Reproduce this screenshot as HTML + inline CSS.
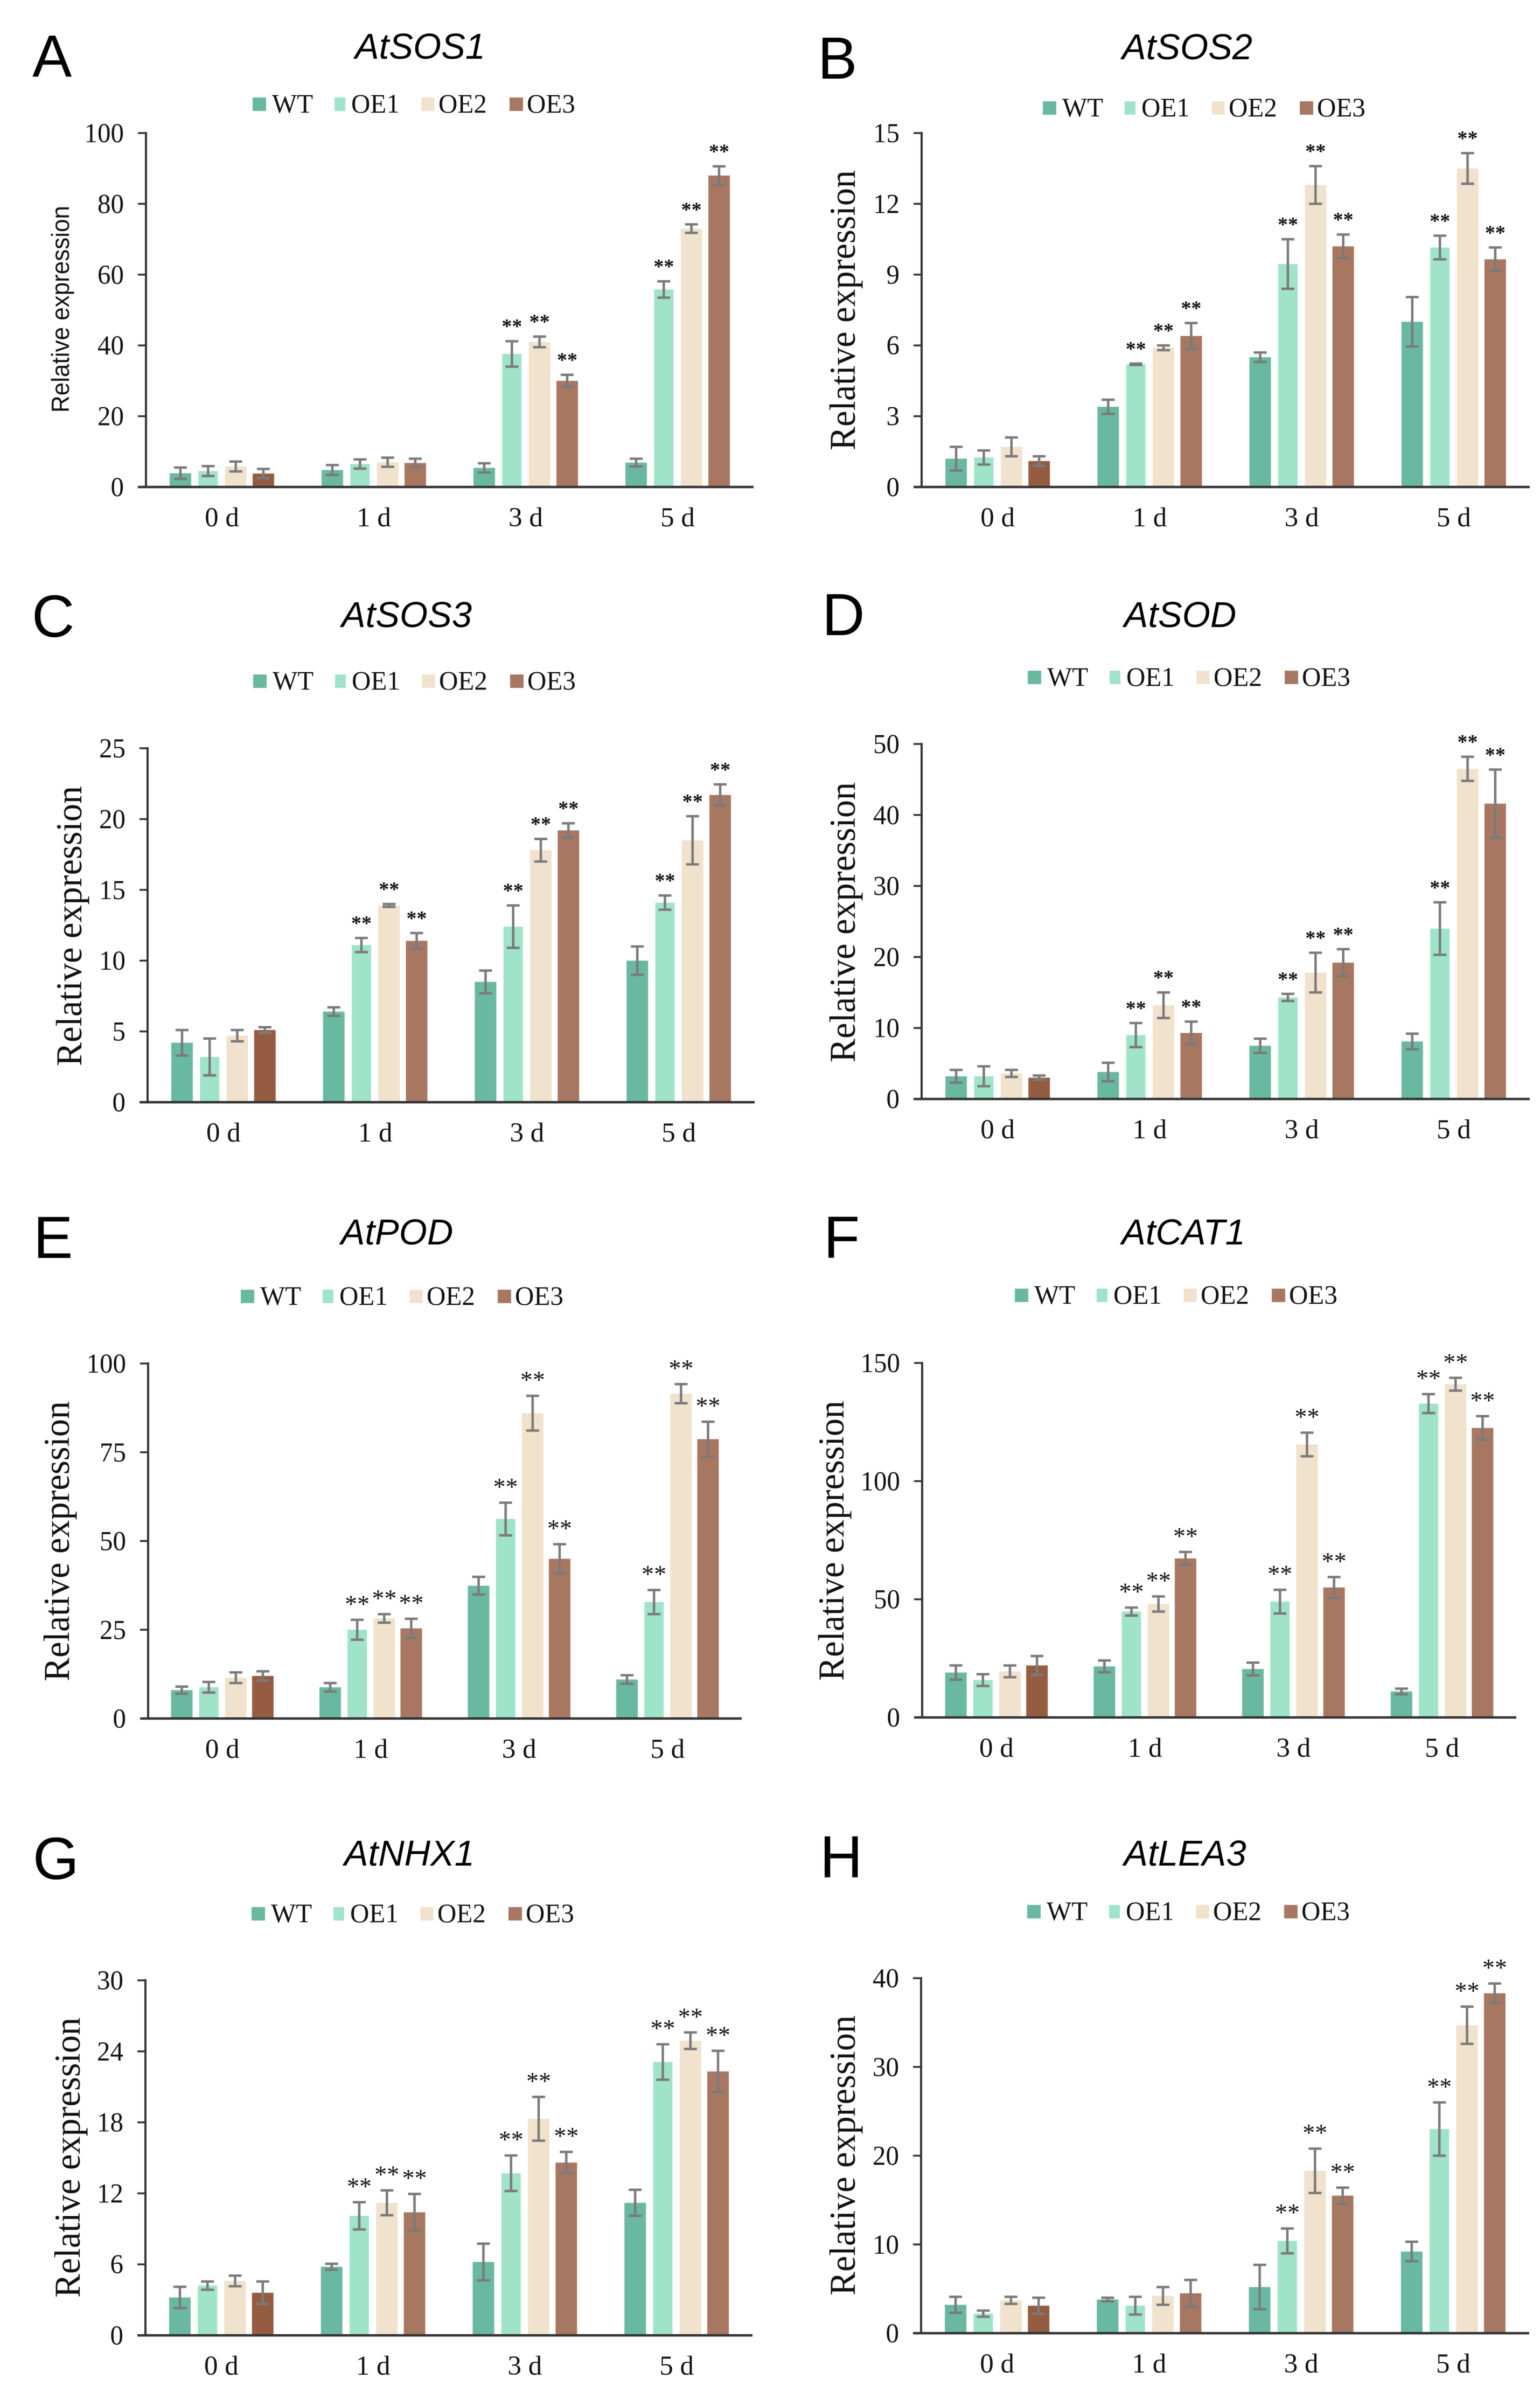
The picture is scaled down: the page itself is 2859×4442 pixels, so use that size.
<!DOCTYPE html>
<html lang="en">
<head>
<meta charset="utf-8">
<title>Relative expression of stress-responsive genes</title>
<style>
html,body{margin:0;padding:0;background:#fff;}
svg{display:block;filter:blur(0.9px);}
</style>
</head>
<body>
<svg id="figure" xmlns="http://www.w3.org/2000/svg" width="2859" height="4442" viewBox="0 0 2859 4442"></svg>
<script>
const categories = ['0 d', '1 d', '3 d', '5 d'];
const seriesNames = ['WT', 'OE1', 'OE2', 'OE3'];

const sos1Ticks = [0, 20, 40, 60, 80, 100];
const sos1Values = [[3.9, 4.8, 5.4, 6.9], [4.5, 6.5, 37.6, 55.8], [5.8, 7, 41, 73], [3.8, 6.8, 30, 88]];
const sos1Errors = [[1.6, 1.4, 1.3, 1.1], [1.4, 1.3, 3.6, 2.3], [1.4, 1.3, 1.5, 1.2], [1.3, 1.2, 1.7, 2.6]];
const sos1Marked = [0, 0, 1, 1];

const sos2Ticks = [0, 3, 6, 9, 12, 15];
const sos2Values = [[1.2, 3.4, 5.5, 7], [1.25, 5.2, 9.45, 10.15], [1.7, 5.9, 12.8, 13.5], [1.1, 6.4, 10.2, 9.65]];
const sos2Errors = [[0.5, 0.3, 0.2, 1.05], [0.3, 0.03, 1.05, 0.5], [0.4, 0.1, 0.8, 0.65], [0.2, 0.55, 0.5, 0.5]];
const sos2Marked = [0, 1, 1, 1];

const sos3Ticks = [0, 5, 10, 15, 20, 25];
const sos3Values = [[4.2, 6.4, 8.5, 10], [3.2, 11.1, 12.4, 14.1], [4.7, 13.9, 17.8, 18.5], [5.1, 11.4, 19.2, 21.7]];
const sos3Errors = [[0.9, 0.3, 0.8, 1], [1.3, 0.5, 1.5, 0.5], [0.4, 0.1, 0.8, 1.7], [0.2, 0.55, 0.5, 0.75]];
const sos3Marked = [0, 1, 1, 1];

const sodTicks = [0, 10, 20, 30, 40, 50];
const sodValues = [[3.2, 3.8, 7.5, 8.1], [3.2, 9, 14.3, 24], [3.6, 13.2, 17.8, 46.5], [3, 9.3, 19.2, 41.6]];
const sodErrors = [[0.9, 1.3, 1, 1.1], [1.4, 1.7, 0.5, 3.7], [0.5, 1.8, 2.8, 1.7], [0.3, 1.6, 1.9, 4.8]];
const sodMarked = [0, 1, 1, 1];

const podTicks = [0, 25, 50, 75, 100];
const podValues = [[8, 8.8, 37.4, 11], [8.8, 25, 56.2, 32.8], [11.5, 28.2, 86, 91.5], [12, 25.4, 45, 78.7]];
const podErrors = [[1, 1.2, 2.5, 1.2], [1.5, 2.8, 4.6, 3.4], [1.5, 1.2, 4.9, 2.7], [1.3, 2.7, 4.1, 4.9]];
const podMarked = [0, 1, 1, 1];

const cat1Ticks = [0, 50, 100, 150];
const cat1Values = [[19, 21.6, 20.5, 11], [15.8, 44.8, 49, 132.8], [19.5, 48, 115.5, 141], [22, 67.3, 55, 122.5]];
const cat1Errors = [[3, 2.5, 2.7, 1.2], [2.5, 1.7, 5, 4], [2.5, 3.2, 5, 2.7], [4, 2.7, 4.4, 5]];
const cat1Marked = [0, 1, 1, 1];

const nhx1Ticks = [0, 6, 12, 18, 24, 30];
const nhx1Values = [[3.2, 5.8, 6.2, 11.2], [4.2, 10.1, 13.7, 23.1], [4.6, 11.2, 18.3, 24.9], [3.6, 10.4, 14.6, 22.3]];
const nhx1Errors = [[0.9, 0.25, 1.55, 1.1], [0.35, 1.15, 1.5, 1.5], [0.45, 1.05, 1.85, 0.7], [0.95, 1.55, 0.9, 1.75]];
const nhx1Marked = [0, 1, 1, 1];

const lea3Ticks = [0, 10, 20, 30, 40];
const lea3Values = [[3.2, 3.8, 5.2, 9.2], [2.2, 3.1, 10.4, 23], [3.7, 4.2, 18.3, 34.7], [3.1, 4.5, 15.5, 38.3]];
const lea3Errors = [[0.9, 0.2, 2.5, 1.1], [0.35, 1, 1.4, 3], [0.4, 1, 2.5, 2.1], [0.9, 1.5, 0.9, 1.1]];
const lea3Marked = [0, 0, 1, 1];

const SERIF = '"Liberation Serif", serif';
const SANS = '"Liberation Sans", sans-serif';
const fills = ['#69b8a0', '#9fe3c9', '#f0e2cc', '#a87762'];
const firstGroupOE3 = '#955c42';
const barWidths = [40, 36, 40, 40];
const legendOffsets = [0, 152, 313.5, 477];
const legendTextOffsets = [36, 183, 345, 509];
const legendSwatchWidths = [25, 20, 24, 25];

const panels = [
  {key:'sos1', letter:'A', title:'AtSOS1', ticks:sos1Ticks, values:sos1Values, errors:sos1Errors, marked:sos1Marked,
   x0:271, x1:1399, top:247, base:904, letterX:60, letterY:142, titleX:780, titleY:109, legX:469, legY:209,
   yTitleX:128, yTitleY:574, yTitleLen:384, yTitleFont:SANS, yTitleSize:46, starSize:38, starBold:true, starGap:33},
  {key:'sos2', letter:'B', title:'AtSOS2', ticks:sos2Ticks, values:sos2Values, errors:sos2Errors, marked:sos2Marked,
   x0:1711, x1:2840, top:247, base:904, letterX:1518, letterY:146, titleX:2204, titleY:110, legX:1936, legY:216,
   yTitleX:1587, yTitleY:576, yTitleLen:520, yTitleFont:SERIF, yTitleSize:68, starSize:38, starBold:true, starGap:33},
  {key:'sos3', letter:'C', title:'AtSOS3', ticks:sos3Ticks, values:sos3Values, errors:sos3Errors, marked:sos3Marked,
   x0:274, x1:1401, top:1389, base:2046, letterX:59, letterY:1182, titleX:755, titleY:1164, legX:470, legY:1280,
   yTitleX:151, yTitleY:1719, yTitleLen:520, yTitleFont:SERIF, yTitleSize:68, starSize:38, starBold:true, starGap:33},
  {key:'sod', letter:'D', title:'AtSOD', ticks:sodTicks, values:sodValues, errors:sodErrors, marked:sodMarked,
   x0:1711, x1:2840, top:1381, base:2040, letterX:1526, letterY:1179, titleX:2191, titleY:1164, legX:1908, legY:1273,
   yTitleX:1587, yTitleY:1712, yTitleLen:520, yTitleFont:SERIF, yTitleSize:68, starSize:38, starBold:true, starGap:33},
  {key:'pod', letter:'E', title:'AtPOD', ticks:podTicks, values:podValues, errors:podErrors, marked:podMarked,
   x0:275, x1:1377, top:2531, base:3190, letterX:62, letterY:2335, titleX:737, titleY:2310, legX:447, legY:2422,
   yTitleX:128, yTitleY:2861, yTitleLen:520, yTitleFont:SERIF, yTitleSize:68, starSize:46, starBold:false, starGap:36},
  {key:'cat1', letter:'F', title:'AtCAT1', ticks:cat1Ticks, values:cat1Values, errors:cat1Errors, marked:cat1Marked,
   x0:1712, x1:2815, top:2530, base:3188, letterX:1529, letterY:2335, titleX:2197, titleY:2310, legX:1884, legY:2420,
   yTitleX:1566, yTitleY:2860, yTitleLen:520, yTitleFont:SERIF, yTitleSize:68, starSize:46, starBold:false, starGap:36},
  {key:'nhx1', letter:'G', title:'AtNHX1', ticks:nhx1Ticks, values:nhx1Values, errors:nhx1Errors, marked:nhx1Marked,
   x0:270, x1:1397, top:3676, base:4335, letterX:61, letterY:3488, titleX:760, titleY:3463, legX:467, legY:3568,
   yTitleX:148, yTitleY:4005, yTitleLen:520, yTitleFont:SERIF, yTitleSize:68, starSize:46, starBold:false, starGap:36},
  {key:'lea3', letter:'H', title:'AtLEA3', ticks:lea3Ticks, values:lea3Values, errors:lea3Errors, marked:lea3Marked,
   x0:1710, x1:2839, top:3672, base:4331, letterX:1522, letterY:3485, titleX:2200, titleY:3463, legX:1907, legY:3564,
   yTitleX:1587, yTitleY:4001, yTitleLen:520, yTitleFont:SERIF, yTitleSize:68, starSize:46, starBold:false, starGap:36}
];

const NS = 'http://www.w3.org/2000/svg';
const figure = document.getElementById('figure');

function make(parent, tag, attrs, content) {
  const el = document.createElementNS(NS, tag);
  for (const k in attrs) el.setAttribute(k, attrs[k]);
  if (content !== undefined) el.textContent = content;
  parent.appendChild(el);
  return el;
}

function narrowText(parent, str, x, y, size, sx, anchor) {
  return make(parent, 'text', {
    transform: 'translate(' + x + ',' + y + ') scale(' + sx + ',1)',
    'font-family': SERIF, 'font-size': size, 'text-anchor': anchor, fill: '#111'
  }, str);
}

panels.forEach(function (p) {
  const g = make(figure, 'g', {});
  
  

  const yMax = p.ticks[p.ticks.length - 1];
  const yScale = function (v) { return p.base - (v / yMax) * (p.base - p.top); };
  const band = (p.x1 - p.x0) / categories.length;
  const step = band * 0.182;
  const xScale = function (c, s) { return p.x0 + band * (c + 0.5) + (s - 1.5) * step; };

  const letter = make(g, 'text', {x: p.letterX, y: p.letterY, 'font-family': SANS, 'font-size': 110, fill: '#000'}, p.letter);
  
  

  const title = make(g, 'text', {x: p.titleX, y: p.titleY, 'font-family': SANS, 'font-style': 'italic', 'font-size': 67, 'text-anchor': 'middle', fill: '#000'}, p.title);
  
  

  seriesNames.forEach(function (name, s) {
    const sw = make(g, 'rect', {x: p.legX + legendOffsets[s], y: p.legY - 28, width: legendSwatchWidths[s], height: 25, fill: fills[s]});
    
    
    const lt = narrowText(g, name, p.legX + legendTextOffsets[s], p.legY, 50, 0.98, 'start');
    
    
  });

  const yTitle = make(g, 'text', {
    transform: 'translate(' + p.yTitleX + ',' + p.yTitleY + ') rotate(-90)',
    'font-family': p.yTitleFont, 'font-size': p.yTitleSize, 'text-anchor': 'middle', fill: '#111',
    textLength: p.yTitleLen, lengthAdjust: 'spacingAndGlyphs'
  }, 'Relative expression');
  
  

  categories.forEach(function (cat, c) {
    seriesNames.forEach(function (name, s) {
      const v = p.values[s][c];
      const w = barWidths[s];
      const cx = xScale(c, s);
      const fill = (c === 0 && s === 3) ? firstGroupOE3 : fills[s];
      const bar = make(g, 'rect', {x: cx - w / 2, y: yScale(v), width: w, height: p.base - yScale(v), fill: fill});
      
      
    });
  });

  categories.forEach(function (cat, c) {
    seriesNames.forEach(function (name, s) {
      const v = p.values[s][c];
      const e = p.errors[s][c];
      const cx = xScale(c, s);
      const hi = yScale(v + e);
      const lo = yScale(v - e);
      const eb = make(g, 'path', {
        d: 'M' + (cx - 12) + ' ' + hi + 'H' + (cx + 12) + 'M' + cx + ' ' + hi + 'V' + lo + 'M' + (cx - 12) + ' ' + lo + 'H' + (cx + 12),
        fill: 'none', stroke: '#7a7a7a', 'stroke-width': 4.5
      });
      
      
      if (p.marked[c] && s > 0) {
        const star = make(g, 'text', {
          x: cx, y: hi - p.starGap + 0.47 * p.starSize,
          'font-family': SERIF, 'font-size': p.starSize, 'font-weight': p.starBold ? 'bold' : 'normal', 'text-anchor': 'middle', fill: '#111'
        }, '**');
        
        
      }
    });
  });

  const yAxis = make(g, 'line', {x1: p.x0, x2: p.x0, y1: p.top - 2, y2: p.base, stroke: '#333', 'stroke-width': 4});
  
  

  const xAxis = make(g, 'line', {x1: p.x0 - 15, x2: p.x1, y1: p.base, y2: p.base, stroke: '#333', 'stroke-width': 4.5});
  
  

  p.ticks.forEach(function (t) {
    const yy = yScale(t);
    if (t !== 0) {
      const tk = make(g, 'line', {x1: p.x0 - 15, x2: p.x0, y1: yy, y2: yy, stroke: '#333', 'stroke-width': 3.5});
      
      
    }
    const tl = narrowText(g, String(t), p.x0 - 41, yy + 17, 51, 0.96, 'end');
    
    
  });

  categories.forEach(function (cat, c) {
    const xl = narrowText(g, cat, p.x0 + band * (c + 0.5), p.base + 73, 51, 1, 'middle');
    
    
  });
});
</script>
</body>
</html>
